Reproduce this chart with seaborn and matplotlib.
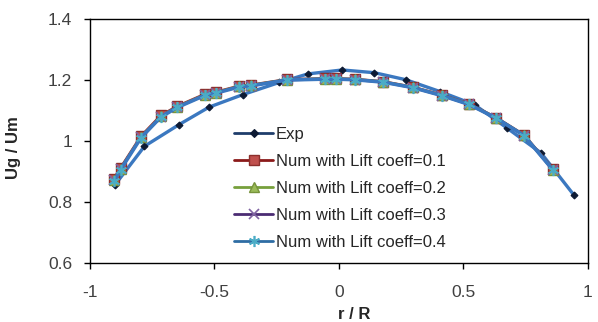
import matplotlib
matplotlib.use("Agg")
import matplotlib.pyplot as plt
from matplotlib.lines import Line2D
import seaborn as sns
import pandas as pd

# ---- data ----
exp_x = [-0.898, -0.780, -0.641, -0.521, -0.386, -0.239, -0.124, 0.014, 0.143, 0.269, 0.407, 0.545, 0.675, 0.812, 0.945]
exp_y = [0.857, 0.983, 1.054, 1.111, 1.152, 1.192, 1.220, 1.233, 1.224, 1.201, 1.162, 1.119, 1.043, 0.961, 0.822]

num_x = [-0.902, -0.876, -0.794, -0.714, -0.649, -0.537, -0.493, -0.402, -0.352, -0.208,
         -0.055, -0.011, 0.065, 0.179, 0.298, 0.414, 0.523, 0.632, 0.744, 0.860]
lift01_y = [0.877, 0.912, 1.016, 1.084, 1.114, 1.154, 1.161, 1.180, 1.184, 1.202,
            1.205, 1.205, 1.203, 1.195, 1.177, 1.151, 1.122, 1.077, 1.020, 0.908]
lift02_y = [0.873, 0.909, 1.013, 1.081, 1.112, 1.152, 1.159, 1.179, 1.183, 1.201,
            1.204, 1.204, 1.202, 1.194, 1.176, 1.150, 1.121, 1.076, 1.019, 0.906]
lift03_y = [0.871, 0.908, 1.012, 1.080, 1.111, 1.151, 1.158, 1.178, 1.182, 1.200,
            1.203, 1.203, 1.201, 1.193, 1.175, 1.149, 1.120, 1.075, 1.018, 0.905]
lift04_y = [0.869, 0.906, 1.011, 1.079, 1.110, 1.150, 1.157, 1.177, 1.181, 1.200,
            1.203, 1.203, 1.201, 1.193, 1.175, 1.149, 1.120, 1.075, 1.018, 0.905]

labels = ["Exp", "Num with Lift coeff=0.1", "Num with Lift coeff=0.2",
          "Num with Lift coeff=0.3", "Num with Lift coeff=0.4"]
x_ticks = [-1, -0.5, 0, 0.5, 1]
x_ticklabels = ["-1", "-0.5", "0", "0.5", "1"]
y_ticks = [0.6, 0.8, 1.0, 1.2, 1.4]
y_ticklabels = ["0.6", "0.8", "1", "1.2", "1.4"]

sns.set_style("white")
plt.rcParams["font.family"] = ["Liberation Sans", "DejaVu Sans"]

fig = plt.figure(figsize=(5.98, 3.22), dpi=100)
ax = fig.add_axes([0.150, 0.183, 0.833, 0.758])

curve_blue = "#3b78c0"
styles = [
    dict(line="#1f3d6b", plot_line=curve_blue, marker="D", ms=3.5, mfc="#0d1a33", mec="#0d1a33", mew=0.8),
    dict(line="#8b1a1a", plot_line="#9b2a2a", marker="s", ms=7.5, mfc="#c0504d", mec="#8c2f2c", mew=1.0),
    dict(line="#77a03c", plot_line="#77a03c", marker="^", ms=7.5, mfc="#9bbb59", mec="#77933c", mew=1.0),
    dict(line="#4b2c73", plot_line="#5a3d86", marker="x", ms=7, mfc="#8064a2", mec="#8064a2", mew=1.2),
    dict(line="#2e6da4", plot_line=curve_blue, marker=(6, 2, 0), ms=8, mfc="#4bacc6", mec="#4bacc6", mew=1.2),
]

series = [(exp_x, exp_y), (num_x, lift01_y), (num_x, lift02_y), (num_x, lift03_y), (num_x, lift04_y)]
lws = [2.4, 2.0, 2.0, 2.0, 2.6]
for (xs, ys), st, lw in zip(series, styles, lws):
    df = pd.DataFrame({"x": xs, "y": ys})
    sns.lineplot(data=df, x="x", y="y", ax=ax, sort=False, estimator=None,
                 color=st["plot_line"], lw=lw, marker=st["marker"], markersize=st["ms"],
                 markerfacecolor=st["mfc"], markeredgecolor=st["mec"], markeredgewidth=st["mew"])

ax.set_xlim(-1, 1)
ax.set_ylim(0.6, 1.4)
ax.set_xticks(x_ticks)
ax.set_xticklabels(x_ticklabels)
ax.set_yticks(y_ticks)
ax.set_yticklabels(y_ticklabels)
ax.tick_params(axis="both", direction="out", length=4.5, width=1.0, color="black",
               labelsize=12.5, labelcolor="#404040", left=True, bottom=True)
ax.tick_params(axis="x", pad=11)
ax.tick_params(axis="y", pad=8)
for s in ax.spines.values():
    s.set_color("black")
    s.set_linewidth(1.0)

ax.set_xlabel("r / R", fontsize=12, fontweight="bold", color="#262626")
ax.set_ylabel("Ug / Um", fontsize=12, fontweight="bold", color="#262626")
ax.xaxis.set_label_coords(0.531, -0.180)
ax.yaxis.set_label_coords(-0.138, 0.475)

handles = [Line2D([0], [0], color=st["line"], lw=2.0, marker=st["marker"],
                  markersize=st["ms"] * (1.2 if st["marker"] == "D" else 1.0),
                  markerfacecolor=st["mfc"], markeredgecolor=st["mec"], markeredgewidth=st["mew"])
           for st in styles]
ax.legend(handles, labels, loc="upper left", bbox_to_anchor=(0.290, 0.559), frameon=False,
          fontsize=12, handlelength=2.35, handletextpad=0.15, labelspacing=0.72,
          borderpad=0, borderaxespad=0, labelcolor="#262626")

fig.savefig("out.png", dpi=100)
